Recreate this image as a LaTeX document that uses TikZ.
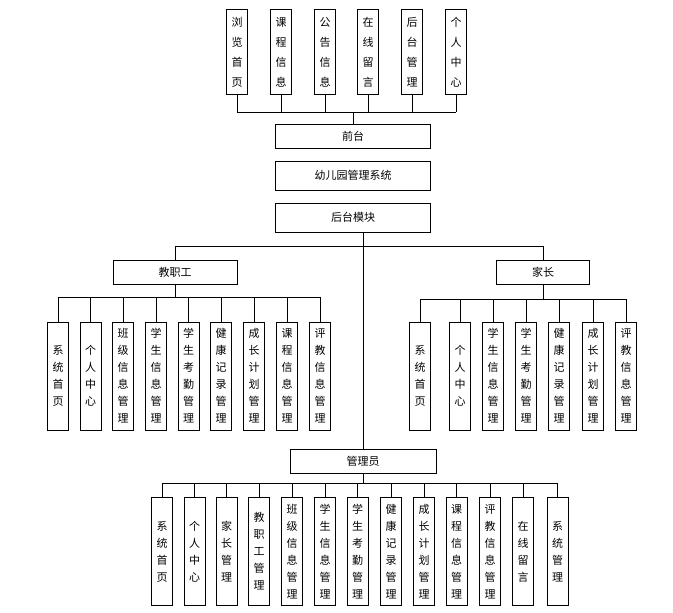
\documentclass[tikz,border=0pt]{standalone}
\usepackage{fontspec}
\setmainfont{Noto Sans CJK SC}
\begin{document}
\begin{tikzpicture}[x=1pt,y=-1pt,
  hb/.style={draw,line width=0.8pt,minimum height=24pt,inner sep=0pt,font=\fontsize{11}{11}\selectfont},
  vb/.style={draw,line width=0.8pt,minimum width=21pt,inner sep=0pt,align=center,font=\fontsize{11}{17}\selectfont},
  ln/.style={line width=0.8pt}]
\useasboundingbox (0,0) rectangle (673,613);
% top
\node[vb,minimum height=85pt,font=\fontsize{11}{20}\selectfont] (f1) at (237,52) {浏\\览\\首\\页};
\node[vb,minimum height=85pt,font=\fontsize{11}{20}\selectfont] (f2) at (281,52) {课\\程\\信\\息};
\node[vb,minimum height=85pt,font=\fontsize{11}{20}\selectfont] (f3) at (325,52) {公\\告\\信\\息};
\node[vb,minimum height=85pt,font=\fontsize{11}{20}\selectfont] (f4) at (368,52) {在\\线\\留\\言};
\node[vb,minimum height=85pt,font=\fontsize{11}{20}\selectfont] (f5) at (412,52) {后\\台\\管\\理};
\node[vb,minimum height=85pt,font=\fontsize{11}{20}\selectfont] (f6) at (456,52) {个\\人\\中\\心};
\node[hb,minimum width=155pt] (qt) at (353,136) {前台};
\node[hb,minimum width=155pt,minimum height=29pt] (sys) at (353,175.5) {幼儿园管理系统};
\node[hb,minimum width=155pt,minimum height=29pt] (ht) at (353,217.5) {后台模块};
\coordinate (fb) at (353,112);
\draw[ln] (fb -| f1) -- (fb -| f6);
\foreach \i in {1,...,6} \draw[ln] (f\i.south) -- (fb -| f\i);
\draw[ln] (fb) -- (qt.north);
% second level
\node[hb,minimum width=124pt] (jz) at (175,272) {教职工};
\node[hb,minimum width=93pt] (jiaz) at (543,272) {家长};
\node[hb,minimum width=146pt] (gly) at (363,461.5) {管理员};
\coordinate (hb2) at (363,246);
\draw[ln] (ht.south -| hb2) -- (gly.north);
\draw[ln] (hb2 -| jz) -- (hb2 -| jiaz);
\draw[ln] (hb2 -| jz) -- (jz.north);
\draw[ln] (hb2 -| jiaz) -- (jiaz.north);
% teacher children
\foreach \i/\x/\t in {1/58/{系\\统\\首\\页},2/90.5/{个\\人\\中\\心},3/123/{班\\级\\信\\息\\管\\理},4/156/{学\\生\\信\\息\\管\\理},5/188.5/{学\\生\\考\\勤\\管\\理},6/221/{健\\康\\记\\录\\管\\理},7/254/{成\\长\\计\\划\\管\\理},8/287/{课\\程\\信\\息\\管\\理},9/320/{评\\教\\信\\息\\管\\理}}
  \node[vb,minimum height=108pt] (t\i) at (\x,376) {\t};
\coordinate (tb) at (175,297);
\draw[ln] (jz.south) -- (tb);
\draw[ln] (tb -| t1) -- (tb -| t9);
\foreach \i in {1,...,9} \draw[ln] (tb -| t\i) -- (t\i.north);
% parent children
\foreach \i/\x/\t in {1/420/{系\\统\\首\\页},2/460/{个\\人\\中\\心},3/493/{学\\生\\信\\息\\管\\理},4/526/{学\\生\\考\\勤\\管\\理},5/559/{健\\康\\记\\录\\管\\理},6/593/{成\\长\\计\\划\\管\\理},7/626/{评\\教\\信\\息\\管\\理}}
  \node[vb,minimum height=108pt] (p\i) at (\x,376) {\t};
\coordinate (pb) at (543,299);
\draw[ln] (jiaz.south) -- (pb);
\draw[ln] (pb -| p1) -- (pb -| p7);
\foreach \i in {1,...,7} \draw[ln] (pb -| p\i) -- (p\i.north);
% admin children
\foreach \i/\x/\t in {1/162/{系\\统\\首\\页},2/194.5/{个\\人\\中\\心},3/226.5/{家\\长\\管\\理},4/259/{教\\职\\工\\管\\理},5/292/{班\\级\\信\\息\\管\\理},6/325/{学\\生\\信\\息\\管\\理},7/357.5/{学\\生\\考\\勤\\管\\理},8/391/{健\\康\\记\\录\\管\\理},9/424/{成\\长\\计\\划\\管\\理},10/456.5/{课\\程\\信\\息\\管\\理},11/490/{评\\教\\信\\息\\管\\理},12/523/{在\\线\\留\\言},13/557.5/{系\\统\\管\\理}}
  \node[vb,minimum height=108pt] (a\i) at (\x,551.5) {\t};
\coordinate (ab) at (363,483);
\draw[ln] (gly.south) -- (ab);
\draw[ln] (ab -| a1) -- (ab -| a13);
\foreach \i in {1,...,13} \draw[ln] (ab -| a\i) -- (a\i.north);
\end{tikzpicture}
\end{document}
